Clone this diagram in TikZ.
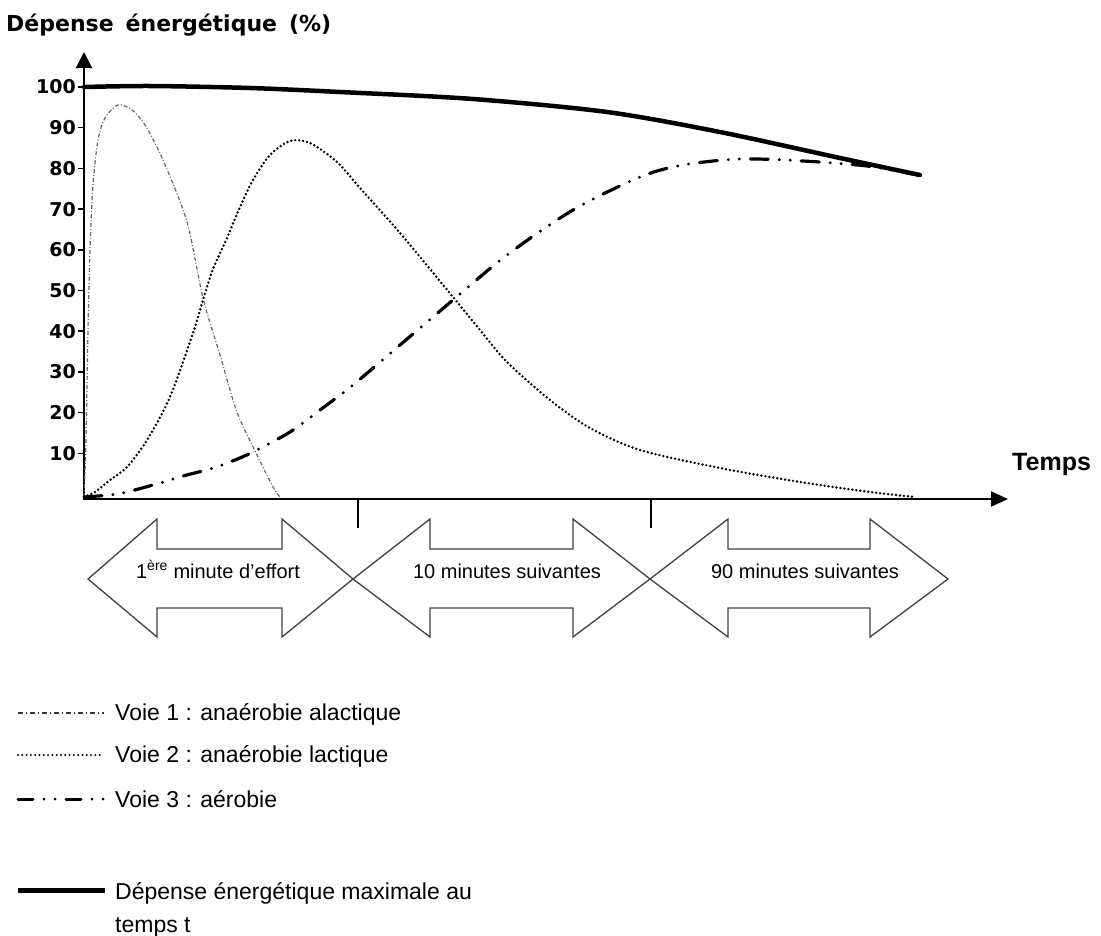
\documentclass[tikz,border=0pt]{standalone}
\usepackage{fontspec}
\setmainfont{Liberation Sans}
\newfontfamily\dvsans{DejaVu Sans}
\usetikzlibrary{arrows.meta}
\begin{document}
\begin{tikzpicture}[x=1pt,y=-1pt,
  axis/.style={line width=2pt, black},
  tickmark/.style={line width=1.5pt},
  ticklabel/.style={anchor=east, inner sep=0pt, font=\dvsans\bfseries\fontsize{19}{22}\selectfont},
  maxcurve/.style={line width=4.5pt, line cap=round, line join=round},
  voieone/.style={line width=1.2pt, black!60, dash pattern=on 4pt off 2pt on 1pt off 2pt},
  voietwo/.style={line width=2.7pt, line cap=round, dash pattern=on 0pt off 4pt},
  voiethree/.style={line width=3.2pt, line cap=round, dash pattern=on 18pt off 11pt on 0pt off 11pt on 0pt off 11pt},
  period/.style={draw=black!75, line width=1.3pt, line join=miter, fill=white},
  periodlabel/.style={anchor=base, inner sep=0pt, font=\fontsize{20}{24}\selectfont},
  legendtext/.style={anchor=base west, inner sep=0pt, font=\fontsize{23}{27}\selectfont},
]
\useasboundingbox (0,0) rectangle (1101,935);

% title and axis label
\node[anchor=base west, inner sep=0pt, font=\dvsans\bfseries\fontsize{22}{26}\selectfont] (title) at (6,31) {\spaceskip=12pt\relax Dépense énergétique (\%)};
\node[anchor=base west, inner sep=0pt, font=\bfseries\fontsize{25}{30}\selectfont] (temps) at (1012,470) {Temps};

% axes
\coordinate (O) at (84,499);
\coordinate (ytop) at (84,52);
\coordinate (xstart) at (83,499);
\coordinate (xend) at (1008,499);
\draw[axis, -{Triangle[length=16pt,width=16pt]}] (O) -- (ytop);
\draw[axis, -{Triangle[length=17pt,width=15pt]}] (xstart) -- (xend);

% y ticks
\foreach \v in {10,20,...,100}{
  \pgfmathsetmacro\yy{494-4.07*\v}
  \node[ticklabel] (tick\v) at (76,\yy) {\v};
  \draw[tickmark] (78,\yy) -- (84,\yy);
}
% x ticks
\coordinate (xa) at (358,499); \coordinate (xab) at (358,528);
\coordinate (xb) at (651,499); \coordinate (xbb) at (651,528);
\draw[line width=2pt] (xa) -- (xab);
\draw[line width=2pt] (xb) -- (xbb);

% curves
\draw[voieone] plot[smooth] coordinates {(84,497) (86,440) (88,330) (90,250) (93,185) (98,140) (105,118) (118,105) (132,110) (145,125) (163,160) (187,222) (203,298) (220,355) (237,412) (257,455) (273,487) (280,497)};
\draw[voietwo] plot[smooth] coordinates {(84,497) (95,492) (110,480) (127,467) (147,440) (170,397) (193,333) (203,300) (213,269) (227,238) (240,207) (253,180) (270,155) (290,141) (310,143) (337,162) (360,188) (400,233) (453,297) (480,330) (507,362) (550,400) (590,428) (640,450) (720,468) (800,482) (870,492) (915,497)};
\draw[voiethree] plot[smooth] coordinates {(84,497) (110,495) (127,492) (160,483) (183,476) (210,469) (230,462) (253,452) (290,432) (320,410) (353,385) (400,345) (453,300) (507,255) (573,210) (640,177) (683,165) (740,159) (803,161) (867,166) (918,175)};
\draw[maxcurve] plot[smooth] coordinates {(84,87) (150,86) (250,88) (340,92) (473,99) (607,112) (720,132) (840,158) (920,175)};

% period arrows
\draw[period] (88,579) -- (157,519) -- (157,549) -- (282,549) -- (282,519) -- (353,579) -- (282,637) -- (282,608) -- (157,608) -- (157,637) -- cycle;
\draw[period] (353,579) -- (430,519) -- (430,549) -- (573,549) -- (573,519) -- (650,579) -- (573,637) -- (573,608) -- (430,608) -- (430,637) -- cycle;
\draw[period] (650,579) -- (728,519) -- (728,549) -- (870,549) -- (870,519) -- (948,579) -- (870,637) -- (870,608) -- (728,608) -- (728,637) -- cycle;
\node[periodlabel] (p1) at (218,578) {1\textsuperscript{ère} minute d'effort};
\node[periodlabel] (p2) at (507,578) {10 minutes suivantes};
\node[periodlabel] (p3) at (805,578) {90 minutes suivantes};

% legend
\coordinate (la1) at (18,713); \coordinate (lb1) at (104,713);
\coordinate (la2) at (18,755); \coordinate (lb2) at (101,755);
\coordinate (la3) at (18,799); \coordinate (lb3) at (104,799);
\coordinate (la4) at (18,890); \coordinate (lb4) at (105,890);
\draw[line width=1.4pt, black!80, dash pattern=on 5pt off 3pt on 1pt off 3pt] (la1) -- (lb1);
\draw[line width=2.2pt, line cap=round, dash pattern=on 0pt off 4.3pt] (la2) -- (lb2);
\draw[line width=3pt, line cap=round, dash pattern=on 15pt off 11pt on 0pt off 11pt on 0pt off 11pt] (la3) -- (lb3);
\draw[line width=5pt] (la4) -- (lb4);
\node[legendtext] (l1) at (115,720) {Voie 1 : anaérobie alactique};
\node[legendtext] (l2) at (115,762) {Voie 2 : anaérobie lactique};
\node[legendtext] (l3) at (115,807) {Voie 3 : aérobie};
\node[legendtext] (l4) at (115,899) {Dépense énergétique maximale au};
\node[legendtext] (l4b) at (115,932) {temps t};
\end{tikzpicture}
\end{document}
